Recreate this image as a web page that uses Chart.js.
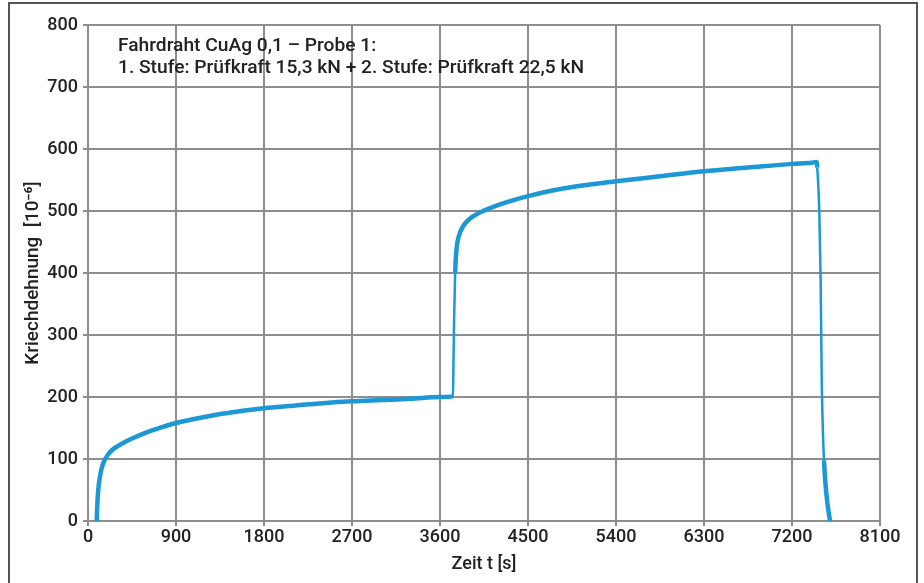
<!DOCTYPE html>
<html lang="de">
<head>
    <meta charset="UTF-8">
    <title>Kriechdehnung CuAg 0,1</title>
    <script src="https://cdn.jsdelivr.net/npm/chart.js@4.4.1/dist/chart.umd.min.js"></script>
    <style>
        body {
            margin: 0;
            padding: 0;
            background: #fff;
            font-family: Roboto, "Liberation Sans", Arial, sans-serif;
        }

        .wrap {
            position: relative;
            width: 924px;
            height: 583px;
            overflow: hidden;
        }

        .frame {
            position: absolute;
            left: 8px;
            top: 2px;
            width: 906px;
            height: 620px;
            border: 2px solid #555;
        }

        canvas {
            position: absolute;
            left: 0;
            top: 0;
        }
    </style>
</head>
<body>
    <div class="wrap">
        <div class="frame"></div>
        <canvas id="creepChart" width="924" height="583"></canvas>
    </div>
    <script>
        // 1. Stufe: 15,3 kN
        const stage1Time = [89, 95, 100, 110, 125, 145, 170, 200, 250, 350, 450, 600, 750, 900, 1100, 1300, 1550, 1800, 2100, 2400, 2700, 3000, 3300, 3600, 3733];
        const stage1Strain = [0, 25, 40, 58, 74, 88, 98, 106, 115, 125, 133, 143, 151, 158, 165, 171, 177, 182, 186, 190, 193, 195, 197, 200, 201];
        // 2. Stufe: 22,5 kN
        const stage2Time = [3738, 3745, 3755, 3768, 3790, 3835, 3900, 4000, 4150, 4300, 4500, 4750, 5000, 5400, 5850, 6300, 6750, 7200, 7400, 7452];
        const stage2Strain = [260, 330, 400, 437, 458, 475, 487, 497, 507, 515, 524, 533, 540, 548, 556, 564, 570, 576, 578, 579];
        // Entlastung
        const unloadTime = [7458, 7479, 7493, 7504, 7515, 7527, 7545, 7565, 7589];
        const unloadStrain = [570, 500, 389, 227, 150, 98, 55, 25, 0];

        const xTicks = [0, 900, 1800, 2700, 3600, 4500, 5400, 6300, 7200, 8100];
        const yTicks = [0, 100, 200, 300, 400, 500, 600, 700, 800];

        const titleLines = [
            "Fahrdraht CuAg 0,1 \u2013 Probe 1:",
            "1. Stufe: Prüfkraft 15,3 kN + 2. Stufe: Prüfkraft 22,5 kN"
        ];

        const allTime = stage1Time.concat(stage2Time, unloadTime);
        const allStrain = stage1Strain.concat(stage2Strain, unloadStrain);
        const points = allTime.map((t, i) => ({ x: t, y: allStrain[i] }));

        const fontFamily = 'Roboto, "Liberation Sans", Arial, sans-serif';
        const textColor = "#222";
        const gridColor = "#8e8e8e";

        const innerTitle = {
            id: "innerTitle",
            afterDraw(chart) {
                const ctx = chart.ctx;
                ctx.save();
                ctx.fillStyle = textColor;
                ctx.font = "500 19.2px " + fontFamily;
                ctx.textBaseline = "middle";
                ctx.textAlign = "left";
                ctx.fillText(titleLines[0], 118, 46);
                ctx.fillText(titleLines[1], 118, 68);
                ctx.restore();
            }
        };

        // steile Flanken duenner, wie im Original (wenige Messpunkte)
        function segWidth(ctx) {
            const dx = Math.abs(ctx.p1.parsed.x - ctx.p0.parsed.x);
            const dy = Math.abs(ctx.p1.parsed.y - ctx.p0.parsed.y);
            return (ctx.p0.parsed.x > 3000 && dy > 3 * dx) ? 2.5 : 4.5;
        }

        new Chart(document.getElementById("creepChart"), {
            type: "scatter",
            data: {
                datasets: [{
                    data: points,
                    showLine: true,
                    borderColor: "#1b98d5",
                    borderWidth: 4.5,
                    pointRadius: 0,
                    cubicInterpolationMode: "monotone",
                    segment: { borderWidth: segWidth }
                }]
            },
            options: {
                responsive: false,
                animation: false,
                layout: { padding: { left: 0, top: 25, right: 44, bottom: 0 } },
                plugins: {
                    legend: { display: false },
                    tooltip: { enabled: false }
                },
                scales: {
                    x: {
                        type: "linear",
                        min: 0,
                        max: 8100,
                        afterBuildTicks: scale => { scale.ticks = xTicks.map(v => ({ value: v })); },
                        afterFit: scale => { scale.height = 62; },
                        grid: { color: gridColor, lineWidth: 2, tickLength: 5 },
                        border: { color: gridColor, width: 2 },
                        ticks: {
                            color: textColor,
                            font: { family: fontFamily, size: 18, weight: 500 },
                            padding: 1,
                            maxRotation: 0,
                            callback: v => String(v)
                        },
                        title: {
                            display: true,
                            text: "Zeit t [s]",
                            color: textColor,
                            font: { family: fontFamily, size: 18, weight: 500 },
                            padding: { top: 0, bottom: 8 }
                        }
                    },
                    y: {
                        min: 0,
                        max: 800,
                        afterBuildTicks: scale => { scale.ticks = yTicks.map(v => ({ value: v })); },
                        afterFit: scale => { scale.width = 88; },
                        grid: { color: gridColor, lineWidth: 2, tickLength: 5 },
                        border: { color: gridColor, width: 2 },
                        ticks: {
                            color: textColor,
                            font: { family: fontFamily, size: 18, weight: 500 },
                            padding: 5,
                            callback: v => String(v)
                        },
                        title: {
                            display: true,
                            text: "Kriechdehnung  [10\u207B\u2076]",
                            color: textColor,
                            font: { family: fontFamily, size: 19, weight: 500 },
                            padding: { top: 22, bottom: 0 }
                        }
                    }
                }
            },
            plugins: [innerTitle]
        });
    </script>
</body>
</html>
